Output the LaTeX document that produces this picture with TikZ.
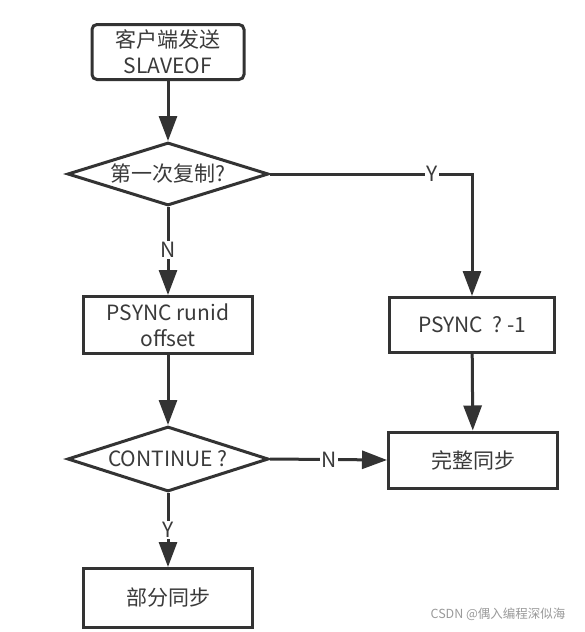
\documentclass[tikz,border=0pt]{standalone}
\usepackage{fontspec}
\setmainfont{Noto Sans CJK SC}
\usetikzlibrary{arrows.meta,shapes.geometric}
\definecolor{ln}{HTML}{333333}
\definecolor{tx}{HTML}{3A3A3A}
\definecolor{wm}{HTML}{9A9A9A}
\tikzset{
  every node/.style={text=tx,font=\fontsize{21}{26}\selectfont},
  boxnode/.style={draw=ln,line width=3pt,fill=white,inner sep=0pt,align=center},
  decide/.style={draw=ln,line width=3pt,fill=white,diamond,inner sep=0pt,minimum width=201pt,minimum height=63pt},
  conn/.style={draw=ln,line width=3pt,-{Triangle[length=25pt,width=18pt]}},
  lab/.style={fill=white,inner sep=1pt,font=\fontsize{21}{24}\selectfont}
}
\newcommand{\dtext}[1]{\raisebox{-0.36em}[0pt][0pt]{\makebox[0pt]{#1}}}
\begin{document}
\begin{tikzpicture}[x=1pt,y=-1pt]
\useasboundingbox (0,0) rectangle (584,632);
\fill[white] (0,0) rectangle (584,632);
\node[boxnode,rounded corners=5pt,minimum width=152pt,minimum height=55pt] (start) at (168,52) {客户端发送\\SLAVEOF};
\node[decide] (d1) at (168,174) {\dtext{第一次复制?}};
\node[boxnode,minimum width=169pt,minimum height=57pt] (p1) at (168,325) {PSYNC runid\\offset};
\node[boxnode,minimum width=165pt,minimum height=55pt] (p2) at (472,325) {PSYNC\ \ ? -1};
\node[decide,minimum height=65pt] (d2) at (168,459) {\dtext{CONTINUE ?}};
\node[boxnode,minimum width=169pt,minimum height=56pt] (full) at (473,460) {完整同步};
\node[boxnode,minimum width=169pt,minimum height=59pt] (part) at (168,598) {部分同步};
\node[text=wm,font=\fontsize{12.5}{14}\selectfont,anchor=east] (wmark) at (569,614) {CSDN @偶入编程深似海};
\coordinate (c1) at (472,174);
\draw[conn] (start) -- (d1);
\draw[conn] (d1.east) -- (c1) -- (p2.north);
\node[lab] (ly) at (432,174) {Y};
\draw[conn] (d1.south) -- (p1.north);
\node[lab] (ln1) at (168,250) {N};
\draw[conn] (p1) -- (d2);
\draw[conn] (p2) -- (full);
\draw[conn] (d2.east) -- (full.west);
\node[lab] (ln2) at (329,460) {N};
\draw[conn] (d2.south) -- (part.north);
\node[lab] (ly2) at (168,530) {Y};
\end{tikzpicture}
\end{document}
